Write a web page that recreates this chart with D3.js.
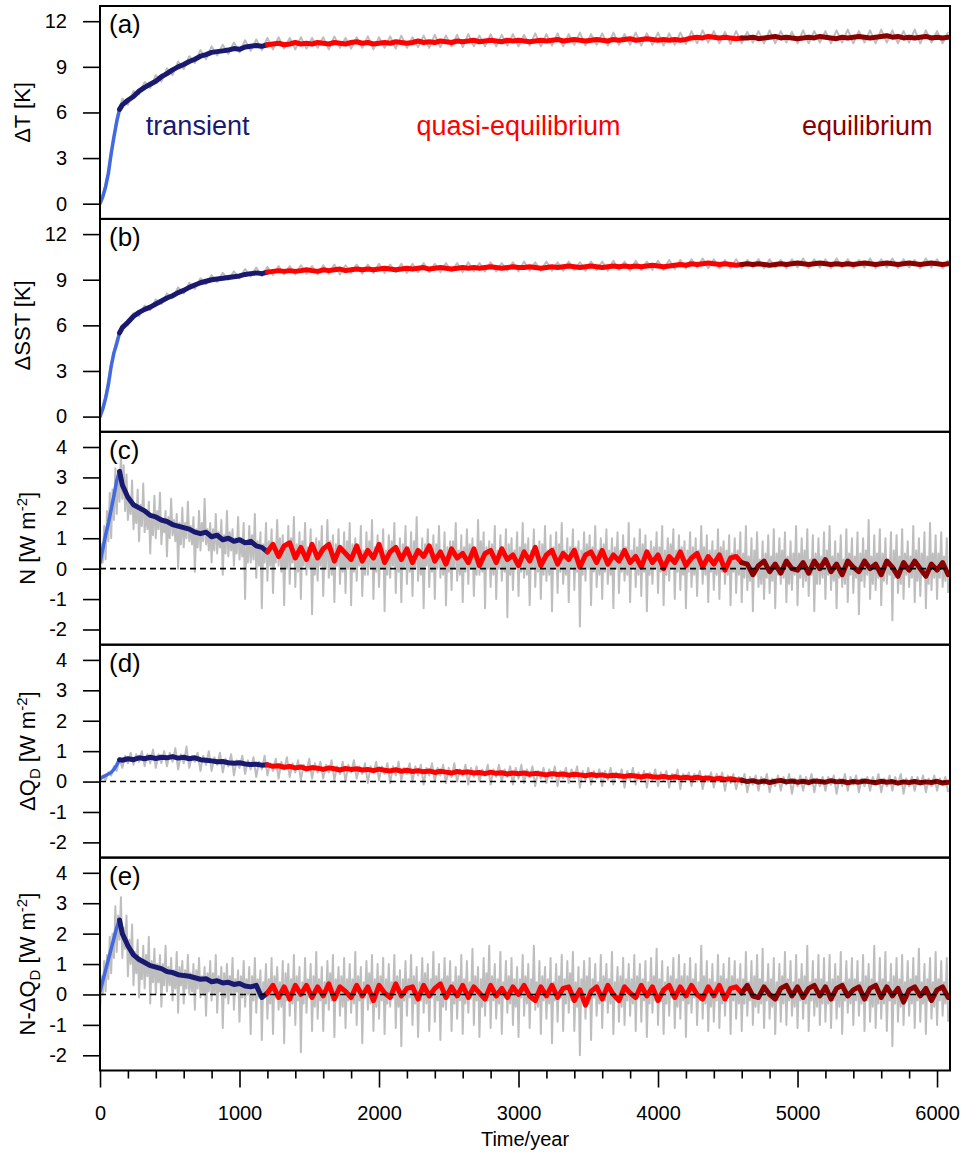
<!DOCTYPE html>
<html>
<head>
<meta charset="utf-8">
<script src="https://cdn.jsdelivr.net/npm/d3@7"></script>
<style>
  body { margin: 0; background: #fff; }
  svg { display: block; font-family: "Liberation Sans", Arial, Helvetica, sans-serif; }
</style>
</head>
<body>
<svg id="chart" width="964" height="1159"></svg>
<script>
/* global d3 */

// Time grids (years). Gray = raw series, colored = running mean.
const YEARS_10 = d3.range(0, 6081, 10);
const YEARS_20 = d3.range(0, 6081, 20);
const YEARS_40 = d3.range(0, 6081, 40);
const SMOOTH_YEARS = [0, 20, 40, 60, 80, 100, 120, 140].concat(d3.range(160, 6081, 40));

const PHASES = [
  { from: 0, to: 140, color: "#4169e1", width: 3.5 },
  { from: 140, to: 1200, color: "#191970", width: 5 },
  { from: 1200, to: 4600, color: "#ff0000", width: 5 },
  { from: 4600, to: 6080, color: "#8b0000", width: 5 },
];

const PHASE_LABELS = [
  { text: "transient", year: 700, color: "#191970" },
  { text: "quasi-equilibrium", year: 3000, color: "#ff0000" },
  { text: "equilibrium", year: 5500, color: "#8b0000" },
];

const X_MAJOR = [0, 1000, 2000, 3000, 4000, 5000, 6000];
const X_MINOR = d3.range(200, 6001, 200).filter((d) => d % 1000 !== 0);
const TICKS_K = [0, 3, 6, 9, 12];
const TICKS_W = [-2, -1, 0, 1, 2, 3, 4];

// (a) surface air temperature change, K
const SMOOTH_DT = [
  0, 0.45, 1.1, 2.0, 3.3, 4.4, 5.4, 6.2, 6.5, 6.8,
  7.05, 7.4, 7.65, 7.85, 8.05, 8.35, 8.55, 8.8, 9.0, 9.15,
  9.35, 9.5, 9.7, 9.8, 9.95, 10.0, 10.05, 10.1, 10.2, 10.15,
  10.3, 10.35, 10.4, 10.35, 10.45, 10.5, 10.55, 10.45, 10.5, 10.6,
  10.5, 10.55, 10.5, 10.6, 10.55, 10.5, 10.6, 10.55, 10.5, 10.6,
  10.65, 10.55, 10.6, 10.5, 10.55, 10.6, 10.55, 10.65, 10.6, 10.55,
  10.6, 10.7, 10.6, 10.65, 10.6, 10.7, 10.65, 10.6, 10.7, 10.65,
  10.7, 10.75, 10.65, 10.7, 10.75, 10.7, 10.65, 10.75, 10.7, 10.75,
  10.7, 10.65, 10.7, 10.75, 10.7, 10.75, 10.8, 10.7, 10.75, 10.8,
  10.75, 10.7, 10.75, 10.8, 10.75, 10.7, 10.8, 10.75, 10.8, 10.85,
  10.75, 10.8, 10.85, 10.8, 10.75, 10.8, 10.75, 10.8, 10.75, 10.8,
  10.9, 10.95, 10.9, 11.0, 10.95, 10.9, 10.95, 10.9, 10.85, 10.9,
  10.9, 10.95, 10.85, 10.9, 10.95, 11.0, 10.9, 10.95, 10.9, 10.85,
  10.9, 10.95, 10.9, 11.0, 10.95, 10.9, 10.85, 10.95, 10.9, 10.95,
  11.0, 10.95, 10.9, 10.95, 11.0, 11.05, 10.95, 11.0, 10.9, 10.95,
  10.9, 10.95, 11.0, 10.9, 10.95, 10.9, 10.95,
];
const GRAY_DT = [
  0.0, 1.3, 3.1, 5.7, 6.9, 6.5, 7.4, 7.2, 8.0, 7.6,
  8.45, 8.05, 8.9, 8.45, 9.35, 8.85, 9.7, 9.25, 10.1, 9.5,
  10.35, 9.75, 10.45, 9.85, 10.6, 9.95, 10.75, 10.05, 10.8, 10.1,
  10.9, 10.15, 10.95, 10.2, 10.9, 10.15, 10.95, 10.2, 10.9, 10.25,
  10.95, 10.15, 11.0, 10.25, 10.9, 10.2, 10.95, 10.25, 11.0, 10.15,
  10.95, 10.25, 11.0, 10.2, 11.05, 10.25, 10.95, 10.3, 11.05, 10.25,
  11.1, 10.3, 11.05, 10.35, 11.1, 10.3, 11.15, 10.35, 11.05, 10.35,
  11.15, 10.35, 11.1, 10.4, 11.15, 10.35, 11.1, 10.4, 11.2, 10.35,
  11.15, 10.4, 11.2, 10.35, 11.15, 10.45, 11.25, 10.4, 11.15, 10.45,
  11.2, 10.4, 11.25, 10.45, 11.15, 10.45, 11.25, 10.4, 11.2, 10.45,
  11.25, 10.4, 11.2, 10.45, 11.25, 10.5, 11.35, 10.55, 11.4, 10.6,
  11.35, 10.55, 11.3, 10.5, 11.35, 10.55, 11.3, 10.6, 11.35, 10.55,
  11.4, 10.55, 11.35, 10.6, 11.3, 10.55, 11.4, 10.55, 11.35, 10.6,
  11.35, 10.55, 11.4, 10.6, 11.45, 10.55, 11.35, 10.6, 11.4, 10.55,
  11.45, 10.6, 11.4, 10.55, 11.35, 10.6, 11.45, 10.55, 11.4, 10.6,
  11.35, 10.55, 11.3,
];

// (b) sea surface temperature change, K
const SMOOTH_DSST = [
  0, 0.5, 1.2, 2.1, 3.3, 4.2, 4.8, 5.5, 5.85, 6.2,
  6.6, 6.85, 7.05, 7.2, 7.4, 7.6, 7.8, 7.95, 8.15, 8.3,
  8.5, 8.65, 8.8, 8.9, 9.0, 9.05, 9.1, 9.15, 9.2, 9.25,
  9.35, 9.4, 9.45, 9.4, 9.5, 9.55, 9.6, 9.55, 9.6, 9.55,
  9.6, 9.65, 9.6, 9.55, 9.65, 9.6, 9.65, 9.7, 9.6, 9.65,
  9.7, 9.65, 9.7, 9.65, 9.7, 9.75, 9.7, 9.65, 9.7, 9.75,
  9.7, 9.75, 9.8, 9.7, 9.75, 9.8, 9.75, 9.7, 9.75, 9.8,
  9.75, 9.8, 9.75, 9.8, 9.85, 9.8, 9.75, 9.8, 9.85, 9.8,
  9.8, 9.85, 9.8, 9.75, 9.8, 9.85, 9.8, 9.85, 9.9, 9.85,
  9.8, 9.85, 9.9, 9.85, 9.8, 9.85, 9.9, 9.85, 9.9, 9.85,
  9.9, 9.85, 9.9, 9.95, 9.9, 9.85, 9.9, 9.95, 10.0, 9.95,
  10.05, 10.0, 10.05, 10.1, 10.05, 10.0, 10.05, 10.0, 9.95, 10.0,
  10.05, 10.0, 10.05, 10.0, 9.95, 10.0, 10.05, 10.0, 10.05, 10.1,
  10.05, 10.0, 10.05, 10.1, 10.05, 10.0, 10.05, 10.0, 10.05, 10.0,
  10.05, 10.1, 10.05, 10.0, 10.05, 10.1, 10.05, 10.0, 10.05, 10.1,
  10.05, 10.0, 10.05, 10.1, 10.05, 10.0, 10.05,
];
const GRAY_DSST = [
  0.0, 1.4, 3.5, 5.1, 6.0, 6.0, 6.8, 6.6, 7.3, 7.0,
  7.7, 7.4, 8.1, 7.8, 8.5, 8.1, 8.8, 8.4, 9.1, 8.7,
  9.3, 8.85, 9.45, 9.0, 9.55, 9.1, 9.7, 9.2, 9.8, 9.25,
  9.85, 9.3, 9.9, 9.35, 9.9, 9.35, 9.95, 9.4, 9.9, 9.35,
  9.95, 9.4, 10.0, 9.35, 9.95, 9.45, 10.0, 9.4, 10.0, 9.45,
  10.05, 9.45, 10.0, 9.5, 10.05, 9.45, 10.05, 9.5, 10.1, 9.5,
  10.05, 9.5, 10.1, 9.55, 10.1, 9.5, 10.15, 9.55, 10.1, 9.55,
  10.15, 9.55, 10.1, 9.6, 10.15, 9.55, 10.2, 9.6, 10.15, 9.6,
  10.2, 9.6, 10.15, 9.6, 10.2, 9.65, 10.15, 9.6, 10.2, 9.65,
  10.2, 9.6, 10.25, 9.65, 10.2, 9.6, 10.25, 9.65, 10.2, 9.65,
  10.25, 9.65, 10.3, 9.7, 10.3, 9.75, 10.35, 9.8, 10.4, 9.75,
  10.35, 9.75, 10.3, 9.75, 10.35, 9.75, 10.3, 9.8, 10.35, 9.75,
  10.35, 9.8, 10.3, 9.75, 10.35, 9.8, 10.4, 9.75, 10.35, 9.8,
  10.35, 9.75, 10.4, 9.8, 10.35, 9.75, 10.3, 9.8, 10.4, 9.75,
  10.35, 9.8, 10.4, 9.75, 10.35, 9.8, 10.3, 9.75, 10.4, 9.8,
  10.35, 9.75, 10.3,
];

// (c) TOA net radiative imbalance N, W m-2
const SMOOTH_N = [
  0.2, 0.65, 1.1, 1.5, 1.95, 2.4, 2.9, 3.2, 2.75, 2.35,
  2.1, 2.0, 1.9, 1.75, 1.7, 1.6, 1.55, 1.45, 1.4, 1.35,
  1.3, 1.2, 1.15, 1.2, 1.05, 1.1, 0.95, 1.0, 0.9, 0.95,
  0.85, 0.9, 0.75, 0.7, 0.55, 0.8, 0.4, 0.75, 0.85, 0.35,
  0.7, 0.3, 0.8, 0.35, 0.65, 0.8, 0.25, 0.7, 0.5, 0.3,
  0.75, 0.25, 0.6, 0.35, 0.8, 0.2, 0.55, 0.7, 0.3, 0.65,
  0.2, 0.6, 0.4, 0.75, 0.25, 0.55, 0.15, 0.65, 0.35, 0.5,
  0.2, 0.65, 0.1, 0.5, 0.6, 0.2, 0.65, 0.3, 0.45, 0.1,
  0.55, 0.25, 0.7, 0.1, 0.45, 0.6, 0.15, 0.5, 0.3, 0.6,
  0.05, 0.45, 0.55, 0.2, 0.6, 0.15, 0.45, 0.25, 0.6, 0.2,
  0.4, 0.05, 0.55, 0.2, 0.45, 0.0, 0.4, 0.2, 0.55, 0.1,
  0.35, 0.5, 0.05, 0.4, 0.15, 0.45, -0.05, 0.35, 0.4, 0.2,
  0.15, -0.2, 0.1, 0.25, -0.1, 0.15, -0.15, 0.25, 0.0, -0.05,
  0.2, -0.15, 0.25, 0.0, 0.3, -0.1, 0.15, -0.2, 0.25, 0.05,
  -0.1, 0.25, 0.0, 0.15, -0.2, 0.25, 0.05, -0.25, 0.2, -0.05,
  0.25, 0.0, -0.25, 0.15, -0.05, 0.2, -0.2,
];
const GRAY_N = [
  -0.4, 0.8, 0.2, 1.4, 0.3, 1.9, 0.9, 2.5, 1.0, 2.6, 1.6, 3.3, 1.8, 3.2, 2.2, 3.8, 2.3, 3.4, 1.9, 3.1,
  1.6, 2.3, 1.8, 2.9, 1.3, 2.0, 1.5, 2.6, 0.9, 2.1, 1.4, 2.8, 1.2, 1.9, 1.3, 2.2, 0.5, 1.8, 1.1, 2.4,
  1.0, 1.9, 1.3, 2.5, 0.8, 1.6, 1.2, 1.9, 0.4, 1.7, 1.0, 2.3, 1.1, 1.6, 0.9, 1.8, 0.0, 1.5, 0.8, 2.0,
  0.7, 1.5, 1.0, 2.2, 0.9, 1.4, 0.8, 1.7, -0.1, 1.3, 0.7, 1.9, 0.6, 1.5, 0.9, 2.3, 0.8, 1.3, 0.6, 1.5,
  0.2, 1.3, 0.6, 1.8, 0.5, 1.2, 0.7, 1.6, -0.2, 1.1, 0.5, 1.9, 0.4, 1.2, 0.6, 1.3, 0.1, 1.0, 0.5, 1.7,
  0.3, 1.0, 0.4, 1.5, -1.0, 0.9, 0.2, 1.4, 0.2, 1.1, 0.3, 1.8, -0.3, 0.9, 0.1, 1.2, -1.3, 0.8, 0.2, 1.5,
  -0.4, 0.9, 0.1, 1.3, -0.8, 0.7, 0.2, 1.6, 0.1, 1.0, -0.1, 1.1, -1.2, 0.8, 0.0, 1.4, -0.5, 1.0, 0.2, 1.7,
  -0.6, 0.8, -0.1, 1.2, -1.0, 0.9, 0.1, 1.5, -0.2, 0.7, 0.0, 1.3, -1.5, 0.6, -0.2, 1.0, -0.4, 0.9, 0.1, 1.4,
  -0.9, 0.7, 0.0, 1.6, -0.3, 0.9, -0.2, 1.1, -1.1, 0.8, 0.1, 1.3, -0.5, 0.6, -0.1, 1.2, -0.8, 0.9, 0.0, 1.5,
  -1.2, 0.8, -0.1, 1.0, -0.4, 0.7, 0.1, 1.4, -0.9, 0.6, -0.2, 1.2, -0.2, 0.9, 0.0, 1.6, -1.0, 0.7, -0.1, 1.1,
  -0.6, 0.8, 0.0, 1.3, -1.4, 0.6, -0.2, 1.1, -0.3, 0.9, 0.1, 1.5, -0.8, 0.7, -0.1, 1.0, -1.1, 0.8, 0.0, 1.4,
  -0.5, 0.7, -0.1, 1.2, -0.9, 0.9, 0.0, 1.7, -0.4, 0.6, -0.2, 1.0, -1.3, 0.8, 0.1, 1.3, -0.6, 0.7, -0.1, 1.1,
  -1.0, 0.8, 0.0, 1.4, -0.3, 0.6, -0.2, 1.2, -1.2, 0.7, -0.1, 0.9, -0.7, 0.9, 0.0, 1.5, -0.4, 0.6, -0.2, 1.1,
  -1.1, 0.7, -0.1, 1.3, -0.5, 0.8, 0.0, 1.0, -0.9, 0.6, -0.2, 1.6, -0.2, 0.9, -0.1, 1.2, -1.3, 0.7, 0.0, 0.9,
  -0.6, 0.8, -0.2, 1.4, -1.0, 0.6, 0.0, 1.1, -0.4, 0.7, -0.1, 1.3, -1.6, 0.8, -0.2, 1.0, -0.7, 0.6, 0.0, 1.2,
  -0.9, 0.7, -0.1, 1.5, -0.3, 0.8, -0.2, 1.0, -1.2, 0.6, 0.0, 1.3, -0.6, 0.7, -0.1, 0.9, -1.0, 0.8, -0.2, 1.4,
  -0.4, 0.6, -0.2, 1.1, -1.4, 0.7, 0.0, 1.2, -0.8, 0.8, -0.1, 1.5, -0.5, 0.6, -0.2, 1.0, -1.1, 0.7, 0.0, 1.3,
  -0.7, 0.7, -0.1, 0.9, -1.9, 0.6, -0.2, 1.2, -0.4, 0.8, 0.0, 1.1, -1.2, 0.7, -0.1, 1.4, -0.6, 0.6, -0.2, 1.0,
  -1.0, 0.8, -0.1, 1.3, -0.5, 0.6, -0.2, 1.0, -1.3, 0.7, 0.0, 1.2, -0.8, 0.6, -0.1, 1.1, -0.4, 0.7, -0.2, 1.5,
  -1.1, 0.6, 0.0, 1.0, -0.6, 0.7, -0.2, 1.3, -0.9, 0.8, -0.1, 1.1, -1.4, 0.6, -0.2, 0.9, -0.5, 0.7, 0.0, 1.2,
  -0.8, 0.7, -0.1, 1.4, -1.2, 0.6, -0.2, 1.0, -0.4, 0.8, 0.0, 1.3, -1.0, 0.6, -0.1, 1.1, -0.7, 0.7, -0.2, 0.9,
  -1.3, 0.6, -0.1, 1.2, -0.6, 0.7, -0.2, 1.0, -0.9, 0.6, 0.0, 1.4, -0.5, 0.7, -0.2, 1.1, -1.1, 0.6, -0.1, 0.9,
  -0.7, 0.6, -0.2, 1.3, -1.0, 0.7, -0.1, 0.9, -0.5, 0.6, -0.2, 1.1, -1.2, 0.5, -0.1, 1.0, -0.8, 0.6, -0.2, 1.2,
  -1.1, 0.5, -0.3, 1.4, -0.7, 0.4, -0.4, 1.0, -1.4, 0.6, -0.2, 1.2, -0.6, 0.3, -0.5, 0.9, -1.0, 0.5, -0.3, 1.1,
  -0.8, 0.4, -0.4, 1.3, -1.3, 0.5, -0.2, 1.0, -0.5, 0.6, -0.3, 1.2, -1.1, 0.4, -0.5, 0.9, -0.7, 0.5, -0.2, 1.4,
  -1.2, 0.5, -0.3, 1.0, -0.6, 0.6, -0.4, 1.3, -0.9, 0.3, -0.2, 1.1, -1.4, 0.5, -0.5, 1.0, -0.5, 0.4, -0.3, 1.2,
  -1.0, 0.6, -0.2, 1.4, -0.7, 0.4, -0.4, 0.9, -1.3, 0.5, -0.3, 1.1, -0.6, 0.3, -0.5, 1.3, -1.1, 0.5, -0.2, 1.0,
  -0.8, 0.4, -0.3, 1.2, -1.5, 0.5, -0.4, 1.0, -0.6, 0.6, -0.2, 1.6, -1.0, 0.4, -0.5, 1.1, -0.7, 0.5, -0.3, 1.3,
  -1.2, 0.5, -0.4, 1.0, -0.5, 0.3, -0.2, 1.2, -1.7, 0.6, -0.3, 1.1, -0.8, 0.4, -0.5, 1.3, -1.0, 0.5, -0.2, 0.9,
  -0.6, 0.4, -0.3, 1.4, -1.1, 0.6, -0.4, 1.0, -0.9, 0.5, -0.2, 1.2, -1.3, 0.4, -0.5, 1.5, -0.7, 0.5, -0.3, 1.1,
  -1.0, 0.5, -0.3, 1.2, -0.6, 0.4, -0.4, 1.0, -0.8,
];

// (d) deep-ocean heat uptake change, W m-2
const SMOOTH_DQD = [
  0.1, 0.15, 0.2, 0.25, 0.3, 0.4, 0.55, 0.72, 0.7, 0.75,
  0.72, 0.78, 0.75, 0.8, 0.76, 0.8, 0.78, 0.82, 0.77, 0.8,
  0.75, 0.78, 0.72, 0.7, 0.68, 0.65, 0.66, 0.62, 0.6, 0.62,
  0.58, 0.56, 0.57, 0.54, 0.55, 0.5, 0.52, 0.47, 0.5, 0.45,
  0.48, 0.42, 0.46, 0.44, 0.4, 0.45, 0.42, 0.38, 0.43, 0.4,
  0.42, 0.38, 0.4, 0.36, 0.41, 0.37, 0.35, 0.39, 0.34, 0.37,
  0.33, 0.36, 0.32, 0.35, 0.3, 0.34, 0.31, 0.28, 0.33, 0.3,
  0.32, 0.28, 0.3, 0.26, 0.31, 0.27, 0.29, 0.25, 0.28, 0.26,
  0.28, 0.24, 0.27, 0.25, 0.22, 0.26, 0.23, 0.25, 0.21, 0.24,
  0.22, 0.19, 0.23, 0.2, 0.22, 0.18, 0.21, 0.19, 0.17, 0.2,
  0.18, 0.15, 0.19, 0.16, 0.14, 0.17, 0.13, 0.16, 0.12, 0.14,
  0.11, 0.14, 0.1, 0.12, 0.08, 0.11, 0.07, 0.09, 0.06, 0.05,
  0.0, 0.03, -0.02, 0.02, -0.03, 0.01, 0.04, -0.01, 0.02, -0.02,
  0.01, -0.03, 0.02, 0.0, -0.02, 0.03, -0.01, 0.01, -0.04, 0.0,
  -0.02, 0.02, -0.01, -0.04, 0.01, -0.02, 0.0, -0.05, -0.01, -0.03,
  0.0, -0.04, -0.01, -0.03, 0.01, -0.05, -0.02,
];
const GRAY_DQD = [
  0.0, 0.2, 0.05, 0.3, 0.2, 0.5, 0.35, 0.75, 0.45, 0.85, 0.6, 0.95, 0.55, 0.9, 0.65, 1.0, 0.5, 0.9, 0.6, 1.05,
  0.45, 0.9, 0.6, 1.0, 0.5, 0.95, 0.65, 1.1, 0.4, 0.9, 0.6, 1.15, 0.45, 0.85, 0.65, 0.95, 0.35, 0.85, 0.55, 1.0,
  0.35, 0.8, 0.55, 0.95, 0.3, 0.75, 0.5, 0.9, 0.2, 0.7, 0.45, 0.85, 0.25, 0.7, 0.4, 0.8, 0.15, 0.65, 0.4, 0.85,
  0.2, 0.6, 0.35, 0.75, 0.1, 0.65, 0.4, 0.8, 0.15, 0.6, 0.3, 0.7, 0.05, 0.55, 0.35, 0.75, 0.1, 0.6, 0.3, 0.65,
  0.1, 0.55, 0.3, 0.7, 0.05, 0.5, 0.25, 0.65, 0.0, 0.55, 0.3, 0.7, 0.1, 0.5, 0.25, 0.6, -0.05, 0.5, 0.3, 0.65,
  0.05, 0.5, 0.25, 0.6, -0.05, 0.5, 0.2, 0.65, 0.05, 0.45, 0.25, 0.6, 0.0, 0.5, 0.2, 0.55, -0.1, 0.45, 0.2, 0.6,
  0.0, 0.45, 0.2, 0.55, -0.05, 0.45, 0.15, 0.6, 0.0, 0.4, 0.2, 0.55, -0.1, 0.45, 0.15, 0.5, 0.0, 0.4, 0.2, 0.55,
  -0.1, 0.4, 0.15, 0.55, 0.0, 0.4, 0.15, 0.5, -0.1, 0.45, 0.1, 0.55, -0.05, 0.4, 0.15, 0.5, -0.15, 0.35, 0.1, 0.45,
  -0.05, 0.4, 0.1, 0.5, -0.15, 0.35, 0.1, 0.45, -0.05, 0.4, 0.1, 0.5, -0.2, 0.35, 0.05, 0.45, -0.1, 0.35, 0.1, 0.4,
  -0.15, 0.35, 0.05, 0.45, -0.1, 0.3, 0.1, 0.4, -0.2, 0.35, 0.05, 0.45, -0.1, 0.3, 0.05, 0.35, -0.2, 0.3, 0.05, 0.4,
  -0.15, 0.3, 0.05, 0.35, -0.2, 0.25, 0.0, 0.4, -0.25, 0.25, 0.0, 0.3, -0.15, 0.25, 0.0, 0.35, -0.25, 0.2, 0.0, 0.3,
  -0.2, 0.25, 0.0, 0.3, -0.3, 0.2, -0.05, 0.25, -0.25, 0.15, -0.1, 0.25, -0.35, 0.15, -0.1, 0.2, -0.3, 0.15, -0.1, 0.25,
  -0.35, 0.1, -0.15, 0.2, -0.3, 0.15, -0.1, 0.25, -0.4, 0.1, -0.15, 0.2, -0.3, 0.15, -0.1, 0.25, -0.35, 0.1, -0.15, 0.15,
  -0.3, 0.15, -0.1, 0.2, -0.4, 0.1, -0.15, 0.25, -0.3, 0.15, -0.1, 0.2, -0.35, 0.1, -0.15, 0.15, -0.3, 0.15, -0.1, 0.25,
  -0.35, 0.1, -0.15, 0.2, -0.3, 0.15, -0.1, 0.25, -0.4, 0.1, -0.15, 0.15, -0.3, 0.15, -0.1, 0.2, -0.35, 0.1, -0.15, 0.2,
  -0.3, 0.1, -0.1, 0.15, -0.35,
];

// (e) N minus deep-ocean uptake, W m-2
const SMOOTH_NQ = [
  0.1, 0.45, 0.8, 1.15, 1.5, 1.85, 2.2, 2.45, 2.0, 1.6,
  1.3, 1.15, 1.05, 0.95, 0.9, 0.85, 0.75, 0.72, 0.65, 0.62,
  0.6, 0.55, 0.5, 0.52, 0.42, 0.45, 0.38, 0.4, 0.33, 0.36,
  0.28, 0.25, 0.3, -0.1, 0.05, 0.3, -0.1, 0.25, -0.15, 0.3,
  0.0, 0.3, -0.1, 0.25, -0.05, 0.35, -0.15, 0.25, 0.1, -0.1,
  0.3, -0.05, 0.25, -0.2, 0.3, 0.05, -0.1, 0.35, -0.05, 0.2,
  0.25, -0.15, 0.3, -0.05, 0.2, 0.35, -0.1, 0.25, -0.05, 0.3,
  -0.1, 0.25, 0.05, -0.15, 0.3, -0.05, 0.2, -0.1, 0.25, 0.0,
  0.3, -0.05, -0.2, 0.25, -0.05, 0.3, -0.1, 0.2, 0.25, -0.2,
  0.15, -0.35, 0.1, 0.25, -0.15, 0.3, 0.0, -0.2, 0.25, 0.05,
  -0.1, 0.3, -0.05, 0.25, -0.2, 0.15, 0.3, -0.1, 0.25, -0.05,
  0.3, 0.0, -0.15, 0.25, -0.05, 0.3, -0.15, 0.2, 0.25, 0.05,
  0.3, -0.05, -0.1, 0.25, 0.0, -0.15, 0.2, 0.3, -0.05, 0.25,
  -0.1, 0.2, 0.3, -0.05, 0.25, -0.15, 0.2, 0.3, -0.05, 0.15,
  0.25, -0.15, 0.2, 0.3, -0.1, 0.25, -0.05, 0.2, -0.25, 0.15,
  0.25, -0.05, 0.2, -0.2, 0.15, 0.25, -0.1,
];
const GRAY_NQ = [
  -0.6, 0.6, 0.0, 1.1, 0.1, 1.3, 0.5, 1.9, 0.7, 2.0, 1.2, 2.9, 1.4, 2.6, 1.8, 3.2, 1.2, 2.2, 1.5, 2.6,
  0.6, 1.8, 1.0, 2.3, 0.3, 1.4, 0.7, 1.8, -0.1, 1.2, 0.5, 1.6, 0.2, 1.3, 0.6, 1.9, -0.3, 1.1, 0.4, 1.5,
  0.0, 1.0, 0.4, 1.3, -0.4, 1.0, 0.3, 1.6, 0.1, 0.9, 0.3, 1.2, -0.2, 0.8, 0.2, 1.4, -0.6, 0.9, 0.3, 1.1,
  -0.3, 0.8, 0.2, 1.3, 0.0, 0.7, 0.1, 1.0, -0.5, 0.8, 0.2, 1.2, -0.1, 0.6, 0.0, 0.9, -0.7, 0.7, 0.1, 1.1,
  -0.2, 0.7, 0.0, 1.3, -0.6, 0.6, 0.1, 0.9, -1.1, 0.7, -0.1, 1.0, -0.3, 0.6, 0.0, 1.2, -0.5, 0.5, 0.1, 0.8,
  -0.9, 0.6, -0.1, 1.1, -0.4, 0.5, 0.0, 0.9, -1.3, 0.6, -0.2, 1.2, -0.6, 0.5, -0.1, 0.8, -1.5, 0.4, 0.0, 1.0,
  -0.8, 0.5, -0.3, 1.2, -1.3, 0.6, -0.1, 0.9, -0.5, 0.4, -0.4, 1.1, -1.6, 0.7, -0.2, 1.0, -0.7, 0.5, -0.3, 1.3,
  -1.0, 0.6, -0.2, 0.9, -1.9, 0.4, -0.3, 1.2, -0.6, 0.5, -0.1, 1.0, -1.2, 0.6, -0.4, 1.4, -0.8, 0.5, -0.2, 0.9,
  -1.2, 0.4, -0.3, 1.1, -0.5, 0.7, -0.2, 1.3, -1.4, 0.5, -0.1, 0.9, -0.7, 0.6, -0.4, 1.2, -1.1, 0.5, -0.2, 1.0,
  -0.6, 0.5, -0.3, 1.4, -1.0, 0.6, -0.2, 0.9, -1.6, 0.4, -0.1, 1.1, -0.5, 0.7, -0.3, 1.3, -1.2, 0.5, -0.4, 1.0,
  -0.8, 0.6, -0.2, 1.2, -1.3, 0.5, -0.3, 1.0, -0.4, 0.4, -0.1, 1.3, -1.1, 0.6, -0.4, 0.8, -1.7, 0.5, -0.2, 1.1,
  -0.7, 0.5, -0.1, 1.3, -1.0, 0.6, -0.3, 0.9, -1.4, 0.4, -0.2, 1.2, -0.6, 0.7, -0.3, 1.0, -1.2, 0.5, -0.1, 1.4,
  -0.9, 0.6, -0.2, 1.0, -1.5, 0.5, -0.4, 1.2, -0.5, 0.6, -0.1, 1.1, -1.2, 0.4, -0.3, 0.9, -0.8, 0.6, -0.2, 1.3,
  -1.3, 0.5, -0.3, 1.1, -0.6, 0.4, -0.1, 1.5, -1.0, 0.6, -0.2, 0.9, -1.4, 0.5, -0.4, 1.2, -0.7, 0.7, -0.2, 1.6,
  -1.1, 0.6, -0.2, 1.0, -0.8, 0.5, -0.3, 1.4, -1.3, 0.4, -0.1, 1.1, -0.6, 0.6, -0.3, 1.2, -1.0, 0.5, -0.4, 0.9,
  -1.4, 0.5, -0.1, 1.3, -0.7, 0.6, -0.3, 1.0, -1.1, 0.5, -0.2, 1.6, -0.5, 0.4, -0.4, 1.1, -1.3, 0.6, -0.2, 0.9,
  -0.8, 0.5, -0.3, 1.2, -1.6, 0.4, -0.2, 1.0, -0.9, 0.6, -0.1, 1.3, -1.2, 0.5, -0.3, 1.1, -0.6, 0.7, -0.2, 1.4,
  -1.2, 0.4, -0.4, 0.9, -2.0, 0.5, -0.2, 1.1, -0.8, 0.6, -0.3, 1.2, -1.5, 0.5, -0.1, 1.0, -0.7, 0.4, -0.3, 1.3,
  -1.1, 0.6, -0.2, 1.0, -0.6, 0.5, -0.3, 1.4, -1.3, 0.4, -0.1, 0.9, -0.9, 0.6, -0.4, 1.2, -1.0, 0.5, -0.2, 1.0,
  -0.7, 0.5, -0.3, 1.3, -1.2, 0.6, -0.1, 1.0, -0.9, 0.5, -0.2, 1.1, -1.4, 0.4, -0.3, 1.2, -0.6, 0.6, -0.2, 1.5,
  -1.0, 0.5, -0.2, 1.1, -1.3, 0.4, -0.3, 0.9, -0.7, 0.6, -0.1, 1.2, -1.1, 0.5, -0.4, 1.3, -0.8, 0.6, -0.2, 1.0,
  -1.4, 0.6, -0.3, 1.2, -0.6, 0.5, -0.1, 1.0, -1.0, 0.4, -0.2, 1.6, -0.8, 0.6, -0.3, 1.1, -1.2, 0.5, -0.4, 1.0,
  -0.9, 0.4, -0.2, 1.3, -1.1, 0.6, -0.3, 1.0, -0.7, 0.5, -0.1, 1.2, -1.3, 0.6, -0.2, 1.1, -0.8, 0.5, -0.3, 1.0,
  -1.2, 0.5, -0.3, 1.4, -0.7, 0.4, -0.2, 1.1, -1.0, 0.6, -0.4, 1.3, -0.6, 0.5, -0.3, 1.5, -1.1, 0.4, -0.2, 1.0,
  -0.8, 0.5, -0.4, 1.2, -1.3, 0.4, -0.2, 1.0, -0.9, 0.6, -0.3, 1.4, -1.0, 0.5, -0.2, 1.1, -0.7, 0.4, -0.4, 1.3,
  -1.1, 0.5, -0.2, 1.0, -0.8, 0.6, -0.3, 1.6, -1.2, 0.4, -0.2, 1.1, -0.7, 0.5, -0.4, 1.3, -1.0, 0.5, -0.3, 1.2,
  -0.9, 0.4, -0.3, 1.3, -1.1, 0.5, -0.2, 1.0, -0.8, 0.6, -0.4, 1.4, -1.3, 0.4, -0.2, 1.1, -0.6, 0.5, -0.3, 1.2,
  -1.0, 0.5, -0.2, 1.1, -0.7, 0.4, -0.3, 1.3, -1.2, 0.6, -0.2, 1.0, -0.9, 0.5, -0.4, 1.6, -1.1, 0.4, -0.3, 1.2,
  -0.8, 0.5, -0.3, 1.4, -1.2, 0.4, -0.2, 1.0, -1.7, 0.6, -0.3, 1.2, -0.9, 0.5, -0.4, 1.3, -1.0, 0.4, -0.2, 1.1,
  -0.7, 0.5, -0.3, 1.2, -1.1, 0.6, -0.2, 1.5, -0.9, 0.4, -0.3, 1.0, -1.3, 0.5, -0.2, 1.2, -0.8, 0.4, -0.4, 1.4,
  -1.0, 0.5, -0.2, 1.1, -0.7, 0.4, -0.3, 1.2, -0.9,
];

const PANELS = [
  { label: "(a)", title: [{ t: "\u0394T [K]" }], titleX: 30, domain: [-1, 13], ticks: TICKS_K,
    gray: GRAY_DT, grayYears: YEARS_40, smooth: SMOOTH_DT, zero: false, phaseText: true },
  { label: "(b)", title: [{ t: "\u0394SST [K]" }], titleX: 30, domain: [-1, 13], ticks: TICKS_K,
    gray: GRAY_DSST, grayYears: YEARS_40, smooth: SMOOTH_DSST, zero: false },
  { label: "(c)", title: [{ t: "N [W m" }, { t: "-2", sup: true }, { t: "]" }], titleX: 35, domain: [-2.5, 4.5], ticks: TICKS_W,
    gray: GRAY_N, grayYears: YEARS_10, smooth: SMOOTH_N, zero: true },
  { label: "(d)", title: [{ t: "\u0394Q" }, { t: "D", sub: true }, { t: " [W m" }, { t: "-2", sup: true }, { t: "]" }], titleX: 35, domain: [-2.5, 4.5], ticks: TICKS_W,
    gray: GRAY_DQD, grayYears: YEARS_20, smooth: SMOOTH_DQD, zero: true },
  { label: "(e)", title: [{ t: "N-\u0394Q" }, { t: "D", sub: true }, { t: " [W m" }, { t: "-2", sup: true }, { t: "]" }], titleX: 35, domain: [-2.5, 4.5], ticks: TICKS_W,
    gray: GRAY_NQ, grayYears: YEARS_10, smooth: SMOOTH_NQ, zero: true },
];

const svg = d3.select("#chart");
const LEFT = 100;
const RIGHT = 950;
const TOP = 6;
const PANEL_H = 212.9;
const FONT = "'Liberation Sans', Arial, Helvetica, sans-serif";

const x = d3.scaleLinear().domain([0, 6093]).range([LEFT, RIGHT]);
const defs = svg.append("defs");

function styleAxis(g, size) {
  g.select(".domain").remove();
  g.selectAll(".tick line").attr("stroke", "#000").attr("stroke-width", 1.6);
  g.selectAll(".tick text").attr("fill", "#000").attr("font-size", size).attr("font-family", FONT);
}

PANELS.forEach((p, i) => {
  const top = TOP + i * PANEL_H;
  const bottom = top + PANEL_H;
  const y = d3.scaleLinear().domain(p.domain).range([bottom, top]);
  const g = svg.append("g");

  const clipId = `clip${i}`;
  defs.append("clipPath").attr("id", clipId)
    .append("rect").attr("x", LEFT).attr("y", top).attr("width", RIGHT - LEFT).attr("height", PANEL_H);
  const plot = g.append("g").attr("clip-path", `url(#${clipId})`);

  const line = d3.line().x((d) => x(d[0])).y((d) => y(d[1]));

  plot.append("path")
    .datum(d3.zip(p.grayYears, p.gray))
    .attr("d", line)
    .attr("fill", "none")
    .attr("stroke", "#bebebe")
    .attr("stroke-width", 2)
    .attr("stroke-linejoin", "round");

  const sm = d3.zip(SMOOTH_YEARS, p.smooth);
  PHASES.forEach((ph) => {
    plot.append("path")
      .datum(sm.filter((d) => d[0] >= ph.from && d[0] <= ph.to))
      .attr("d", line)
      .attr("fill", "none")
      .attr("stroke", ph.color)
      .attr("stroke-width", ph.width)
      .attr("stroke-linejoin", "round")
      .attr("stroke-linecap", "round");
  });

  if (p.zero) {
    plot.append("line")
      .attr("x1", LEFT).attr("x2", RIGHT)
      .attr("y1", y(0)).attr("y2", y(0))
      .attr("stroke", "#000").attr("stroke-width", 1.6)
      .attr("stroke-dasharray", "6,4");
  }

  if (p.phaseText) {
    g.selectAll("text.phase").data(PHASE_LABELS).join("text")
      .attr("class", "phase")
      .attr("x", (d) => x(d.year))
      .attr("y", y(4.5))
      .attr("text-anchor", "middle")
      .attr("font-size", 27)
      .attr("fill", (d) => d.color)
      .text((d) => d.text);
  }

  g.append("text")
    .attr("x", 109).attr("y", top + 27)
    .attr("font-size", 26)
    .text(p.label);

  g.append("rect")
    .attr("x", LEFT).attr("y", top)
    .attr("width", RIGHT - LEFT).attr("height", PANEL_H)
    .attr("fill", "none").attr("stroke", "#000").attr("stroke-width", 2);

  const yAxis = g.append("g")
    .attr("transform", `translate(${LEFT},0)`)
    .call(d3.axisLeft(y).tickValues(p.ticks).tickSize(17).tickPadding(16).tickFormat((d) => String(d)));
  styleAxis(yAxis, 20);

  // y-axis title with sub/superscripts
  const title = g.append("text")
    .attr("transform", `translate(${p.titleX},${(top + bottom) / 2}) rotate(-90)`)
    .attr("text-anchor", "middle")
    .attr("font-size", 22);
  let shift = 0;
  p.title.forEach((part) => {
    const target = part.sup ? -8 : part.sub ? 5 : 0;
    title.append("tspan")
      .attr("dy", target - shift)
      .attr("font-size", part.sup || part.sub ? 15 : 22)
      .text(part.t);
    shift = target;
  });

  if (i === PANELS.length - 1) {
    const xAxis = g.append("g")
      .attr("transform", `translate(0,${bottom})`)
      .call(d3.axisBottom(x).tickValues(X_MAJOR).tickSize(17).tickPadding(18).tickFormat((d) => String(d)));
    styleAxis(xAxis, 20);
    const xMinor = g.append("g")
      .attr("transform", `translate(0,${bottom})`)
      .call(d3.axisBottom(x).tickValues(X_MINOR).tickSize(8).tickFormat(""));
    styleAxis(xMinor, 20);

    g.append("text")
      .attr("x", (LEFT + RIGHT) / 2).attr("y", 1146)
      .attr("text-anchor", "middle")
      .attr("font-size", 20)
      .text("Time/year");
  }
});
</script>
</body>
</html>
